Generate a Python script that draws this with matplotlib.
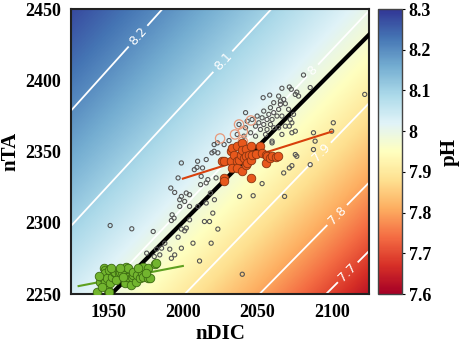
import numpy as np
import matplotlib
matplotlib.use("Agg")
import matplotlib.pyplot as plt

# Podaci (ocitani sa slike)

gray_dic = [1999.0, 2009.5, 2015.7, 2019.5, 2023.5, 1996.8, 2012.3, 2016.8, 2015.7, 2011.9,
            2022.3, 1991.9, 1994.5, 1999.0, 2002.3, 2004.5, 1997.9, 2001.2, 2018.5, 2015.7,
            2021.2, 2004.5, 1997.9, 2010.1, 1992.8, 1994.1, 1992.3, 2020.1, 1951.2, 1965.7,
            1980.1, 2004.5, 1999.0, 2002.3, 2001.2, 2014.5, 2017.9, 2023.5, 1996.8, 2006.8,
            2019.0, 1987.9, 1985.7, 1982.3, 1991.2, 1999.0, 1975.7, 1980.8, 1984.5, 1992.3,
            1994.5, 2011.2,
            2066.5, 2053.9, 2058.3, 2064.3, 2061.0, 2065.5, 2058.8, 2054.3, 2057.7, 2061.0,
            2064.3, 2049.9, 2053.2, 2056.5, 2059.9, 2063.2, 2051.0, 2054.3, 2058.8, 2042.1,
            2043.2, 2046.5, 2048.8, 2052.1, 2056.5, 2061.0, 2042.1, 2037.7, 2045.5, 2048.8,
            2055.5, 2059.9, 2041.0, 2036.5, 2031.0, 2027.7, 2021.0, 2009.9, 2013.2, 2007.7,
            2081.0, 2122.1, 2071.5, 2072.8, 2085.5, 2075.5, 2077.7, 2067.7, 2065.5, 2068.8,
            2071.0, 2066.5, 2072.1, 2073.2, 2074.3, 2071.5, 2068.8, 2064.3, 2075.5, 2073.2,
            2066.5, 2076.5,
            2087.7, 2088.8, 2087.7, 2101.0, 2099.9, 2075.5, 2076.5, 2073.2, 2071.5, 2085.5,
            2053.2, 2047.2, 2038.1, 2068.3, 2039.9, 2059.9, 2067.7, 2021.0, 2023.2]
gray_ta = [2342.0, 2338.9, 2344.4, 2349.1, 2349.1, 2331.5, 2332.6, 2330.3, 2328.0, 2326.8,
           2331.5, 2324.4, 2321.3, 2318.5, 2320.9, 2319.7, 2316.2, 2315.0, 2320.9, 2313.9,
           2316.2, 2311.5, 2311.5, 2311.5, 2305.6, 2303.3, 2301.6, 2306.8, 2298.1, 2295.8,
           2293.9, 2302.1, 2295.6, 2296.3, 2294.4, 2300.9, 2300.9, 2295.6, 2289.9, 2285.7,
           2285.7, 2285.7, 2282.2, 2281.5, 2281.5, 2282.2, 2278.7, 2276.3, 2277.5, 2275.1,
           2277.5, 2273.2,
           2394.4, 2387.8, 2389.6, 2388.9, 2384.3, 2385.4, 2380.8, 2378.4, 2376.1, 2377.3,
           2379.6, 2374.9, 2373.7, 2372.5, 2372.5, 2374.9, 2370.2, 2369.0, 2369.0, 2377.3,
           2371.3, 2372.5, 2367.8, 2365.5, 2365.5, 2366.7, 2366.7, 2369.0, 2363.2, 2360.8,
           2362.0, 2357.3, 2360.8, 2362.0, 2357.7, 2354.9, 2354.9, 2343.2, 2338.5, 2337.3,
           2403.7, 2390.1, 2395.3, 2393.7, 2394.9, 2390.1, 2388.9, 2386.6, 2383.1, 2383.6,
           2379.6, 2374.9, 2372.5, 2370.2, 2376.1, 2367.8, 2367.8, 2366.7, 2364.3, 2363.2,
           2362.0, 2391.7,
           2363.2, 2357.3, 2351.4, 2370.2, 2364.3, 2347.9, 2346.7, 2340.1, 2338.5, 2340.8,
           2327.5, 2319.0, 2318.5, 2318.5, 2263.9, 2356.1, 2335.0, 2350.2, 2356.1]

salmon_dic = [2025.0, 2037.7, 2045.7, 2040.3, 2040.3, 2035.0]
salmon_ta = [2359.2, 2369.0, 2371.8, 2364.1, 2357.0, 2362.0]

orange_dic = [2026.1, 2027.7, 2027.7, 2027.7, 2032.1, 2032.1, 2033.2, 2033.2, 2034.3, 2036.5,
              2036.5, 2036.5, 2037.7, 2038.8, 2039.9, 2039.9, 2039.9, 2041.0, 2042.1, 2042.1,
              2042.1, 2043.2, 2044.3, 2045.5, 2045.5, 2045.5, 2046.5, 2048.8, 2052.1, 2053.2,
              2055.5, 2055.5, 2056.5, 2058.8, 2059.9, 2062.5, 2063.7]
orange_ta = [2343.2, 2343.7, 2331.5, 2329.1, 2350.2, 2343.2, 2352.6, 2338.5, 2347.9, 2353.7,
             2343.2, 2338.5, 2344.4, 2347.9, 2356.1, 2351.4, 2336.1, 2345.6, 2352.1, 2346.7,
             2340.8, 2342.0, 2347.9, 2353.7, 2344.4, 2331.5, 2347.9, 2348.4, 2354.2, 2349.1,
             2347.9, 2342.0, 2346.7, 2345.6, 2346.7, 2346.3, 2346.7]

green_dic = [1942.5, 1944.5, 1945.7, 1946.8, 1947.7, 1947.9, 1947.9, 1948.8, 1949.9, 1950.1,
             1950.1, 1951.0, 1952.3, 1953.5, 1954.3, 1956.8, 1957.7, 1959.0, 1961.2, 1962.1,
             1962.3, 1963.2, 1963.5, 1965.5, 1965.7, 1966.5, 1966.8, 1968.8, 1969.0, 1971.0,
             1972.3, 1973.2, 1973.2, 1976.5, 1976.8, 1977.7, 1981.2, 1981.7, 1944.0, 1946.0,
             1955.0, 1958.0, 1970.0, 1952.0, 1960.0, 1975.0]
green_ta = [2251.6, 2258.7, 2262.2, 2268.1, 2266.9, 2264.6, 2258.7, 2261.1, 2252.8, 2266.9,
            2251.6, 2257.5, 2262.2, 2265.7, 2265.7, 2264.6, 2265.7, 2265.7, 2257.5, 2269.2,
            2262.2, 2262.2, 2268.1, 2256.3, 2262.2, 2263.4, 2265.7, 2258.7, 2263.4, 2261.1,
            2264.6, 2269.2, 2262.2, 2268.1, 2261.1, 2261.1, 2270.9, 2271.6, 2263.0, 2255.0,
            2260.0, 2268.0, 2268.0, 2268.0, 2262.0, 2265.0]

# linije
black_line_dic = [1952, 2125]
black_line_ta = [2250, 2432]
orange_line_dic = [2000, 2100]
orange_line_ta = [2331, 2364]
green_line_dic = [1930, 2000]
green_line_ta = [2255.6, 2269.7]

ph_levels = [7.7, 7.8, 7.9, 8.0, 8.1, 8.2]
cbar_ticks = [7.6, 7.7, 7.8, 7.9, 8.0, 8.1, 8.2, 8.3]

# Karbonatni sustav za pozadinu pH
pK1, pK2, pKB, pKW = 5.80, 8.90, 8.55, 13.10
BT = 416.0


def alkalinity(ph, dic):
    h = 10.0 ** (-ph)
    k1, k2, kb, kw = 10.0 ** -pK1, 10.0 ** -pK2, 10.0 ** -pKB, 10.0 ** -pKW
    carb = dic * (k1 * h + 2 * k1 * k2) / (h * h + k1 * h + k1 * k2)
    bor = BT * kb / (kb + h)
    return carb + bor + (kw / h - h) * 1e6


dic_grid = np.linspace(1925, 2125, 400)
ta_grid = np.linspace(2250, 2450, 400)
ph_axis = np.linspace(7.2, 8.7, 2000)
ph_field = np.empty((len(ta_grid), len(dic_grid)))
for j, d in enumerate(dic_grid):
    ph_field[:, j] = np.interp(ta_grid, alkalinity(ph_axis, d), ph_axis)

serif = "Liberation Serif"

fig = plt.figure(figsize=(4.59, 3.48), dpi=100)
ax = fig.add_axes([0.155, 0.155, 0.649, 0.819])
cax = fig.add_axes([0.8235, 0.155, 0.052, 0.819])

im = ax.imshow(ph_field, extent=[1925, 2125, 2250, 2450], origin="lower",
               cmap="RdYlBu", vmin=7.6, vmax=8.3, aspect="auto",
               interpolation="bilinear")
cs = ax.contour(dic_grid, ta_grid, ph_field, levels=ph_levels,
                colors="white", linewidths=1.3)
ax.clabel(cs, fmt="%g", fontsize=9, inline=True, inline_spacing=4,
          manual=[(2111, 2265), (2105, 2304), (2096, 2346),
                  (2088, 2406), (2028, 2412), (1972, 2429)])

ax.plot(black_line_dic, black_line_ta, color="black", linewidth=3, zorder=3)
ax.scatter(gray_dic, gray_ta, s=9, facecolors="none", edgecolors="#555555",
           linewidths=0.8, zorder=4)
ax.scatter(salmon_dic, salmon_ta, s=45, facecolors="none", edgecolors="#e89a7c",
           linewidths=0.9, zorder=4)
ax.plot(orange_line_dic, orange_line_ta, color="#d8400c", linewidth=1.5, zorder=5)
ax.scatter(orange_dic, orange_ta, s=38, color="#e8581c", edgecolors="#8a3510",
           linewidths=0.6, zorder=6)
ax.plot(green_line_dic, green_line_ta, color="#5fa020", linewidth=1.5, zorder=5)
ax.scatter(green_dic, green_ta, s=38, color="#72b52e", edgecolors="#3c6a12",
           linewidths=0.6, zorder=6)

ax.set_xlim(1925, 2125)
ax.set_ylim(2250, 2450)
ax.set_xticks([1950, 2000, 2050, 2100])
ax.set_yticks([2250, 2300, 2350, 2400, 2450])
ax.tick_params(length=0, pad=7)
for lab in ax.get_xticklabels() + ax.get_yticklabels():
    lab.set_fontfamily(serif)
    lab.set_fontweight("bold")
    lab.set_fontsize(13)
ax.set_xlabel("nDIC", fontfamily=serif, fontweight="bold", fontsize=15, labelpad=2)
ax.set_ylabel("nTA", fontfamily=serif, fontweight="bold", fontsize=15, labelpad=4)
for sp in ax.spines.values():
    sp.set_linewidth(1.5)
    sp.set_color("#222222")

cb = fig.colorbar(im, cax=cax, ticks=cbar_ticks, format="%g")
cb.outline.set_linewidth(1.0)
cb.outline.set_edgecolor("#444444")
cax.tick_params(length=2, width=0.8, pad=3)
for lab in cax.get_yticklabels():
    lab.set_fontfamily(serif)
    lab.set_fontweight("bold")
    lab.set_fontsize(13)
cb.set_label("pH", fontfamily=serif, fontweight="bold", fontsize=15, rotation=90,
             labelpad=6)

fig.savefig("out.png", dpi=100)
